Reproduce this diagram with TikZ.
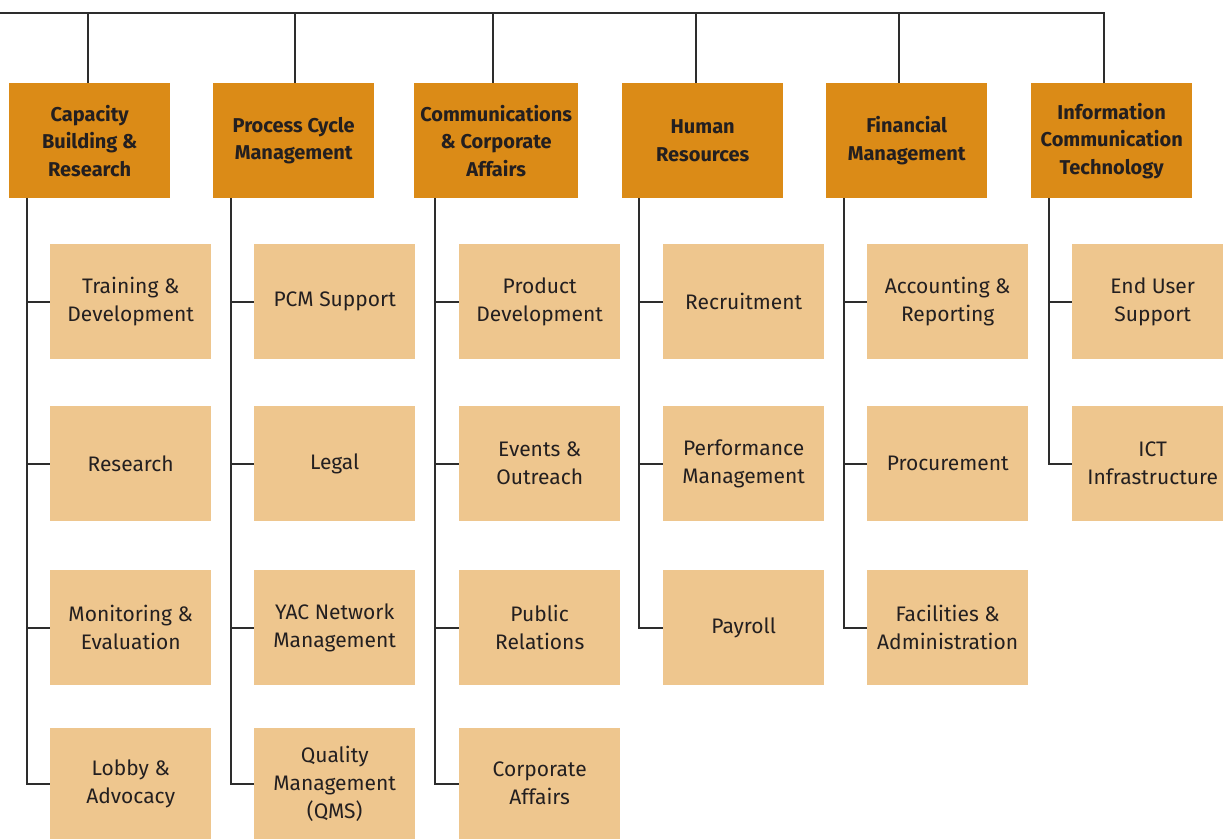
\documentclass[tikz,border=0pt]{standalone}
\usepackage{fontspec}
\setmainfont{Fira Sans}
\definecolor{headfill}{RGB}{219,139,23}
\definecolor{unitfill}{RGB}{238,198,142}
\definecolor{ink}{RGB}{35,31,32}
\definecolor{wirecol}{RGB}{45,45,45}

\begin{document}
\begin{tikzpicture}[x=1pt,y=-1pt,
  head/.style={fill=headfill, anchor=north west, minimum width=161pt,
    minimum height=115pt, inner sep=0pt, align=center, text=ink,
    font=\fontsize{20}{27.5}\selectfont\bfseries},
  unit/.style={fill=unitfill, anchor=north west, minimum width=161pt,
    minimum height=115pt, inner sep=0pt, align=center, text=ink,
    font=\fontsize{21}{28}\selectfont},
  wire/.style={draw=wirecol, line width=2pt}]

\useasboundingbox (0,0) rectangle (1223,839);

% department headers
\node[head] (h1) at (9,83)    {Capacity\\Building \&\\Research};
\node[head] (h2) at (213,83)  {Process Cycle\\Management};
\node[head, minimum width=164pt] (h3) at (414,83) {Communications\\\& Corporate\\Affairs};
\node[head] (h4) at (622,83)  {Human\\Resources};
\node[head] (h5) at (826,83)  {Financial\\Management};
\node[head] (h6) at (1031,83) {Information\\Communication\\Technology};

% units: column 1
\node[unit] (u11) at (50,244) {Training \&\\Development};
\node[unit] (u12) at (50,406) {Research};
\node[unit] (u13) at (50,570) {Monitoring \&\\Evaluation};
\node[unit, minimum height=111pt] (u14) at (50,728) {Lobby \&\\Advocacy};
% column 2
\node[unit] (u21) at (254,244) {PCM Support};
\node[unit] (u22) at (254,406) {Legal};
\node[unit] (u23) at (254,570) {YAC Network\\Management};
\node[unit, minimum height=111pt] (u24) at (254,728) {Quality\\Management\\(QMS)};
% column 3
\node[unit] (u31) at (459,244) {Product\\Development};
\node[unit] (u32) at (459,406) {Events \&\\Outreach};
\node[unit] (u33) at (459,570) {Public\\Relations};
\node[unit, minimum height=111pt] (u34) at (459,728) {Corporate\\Affairs};
% column 4
\node[unit] (u41) at (663,244) {Recruitment};
\node[unit] (u42) at (663,406) {Performance\\Management};
\node[unit] (u43) at (663,570) {Payroll};
% column 5
\node[unit] (u51) at (867,244) {Accounting \&\\Reporting};
\node[unit] (u52) at (867,406) {Procurement};
\node[unit] (u53) at (867,570) {Facilities \&\\Administration};
% column 6
\node[unit] (u61) at (1072,244) {End User\\Support};
\node[unit] (u62) at (1072,406) {ICT\\Infrastructure};

% top bus and drops to the headers
\coordinate (L) at (0,13);
\coordinate (t1) at (88,13);
\coordinate (t2) at (295,13);
\coordinate (t3) at (493,13);
\coordinate (t4) at (696,13);
\coordinate (t5) at (899,13);
\coordinate (t6) at (1104,13);
\draw[wire] (L) -- (t6) -- (t6 |- h6.north);
\foreach \i in {1,...,5} \draw[wire] (t\i) -- (t\i |- h\i.north);

% trunk starts under each header
\coordinate (s1) at (27,198);
\coordinate (s2) at (231,198);
\coordinate (s3) at (435,198);
\coordinate (s4) at (639,198);
\coordinate (s5) at (844,198);
\coordinate (s6) at (1049,198);

% trunks with branches
\draw[wire] (s1) |- (u14.west);
\foreach \r in {1,2,3} \draw[wire] (s1 |- u1\r.west) -- (u1\r.west);
\draw[wire] (s2) |- (u24.west);
\foreach \r in {1,2,3} \draw[wire] (s2 |- u2\r.west) -- (u2\r.west);
\draw[wire] (s3) |- (u34.west);
\foreach \r in {1,2,3} \draw[wire] (s3 |- u3\r.west) -- (u3\r.west);
\draw[wire] (s4) |- (u43.west);
\foreach \r in {1,2} \draw[wire] (s4 |- u4\r.west) -- (u4\r.west);
\draw[wire] (s5) |- (u53.west);
\foreach \r in {1,2} \draw[wire] (s5 |- u5\r.west) -- (u5\r.west);
\draw[wire] (s6) |- (u62.west);
\draw[wire] (s6 |- u61.west) -- (u61.west);
\end{tikzpicture}
\end{document}
